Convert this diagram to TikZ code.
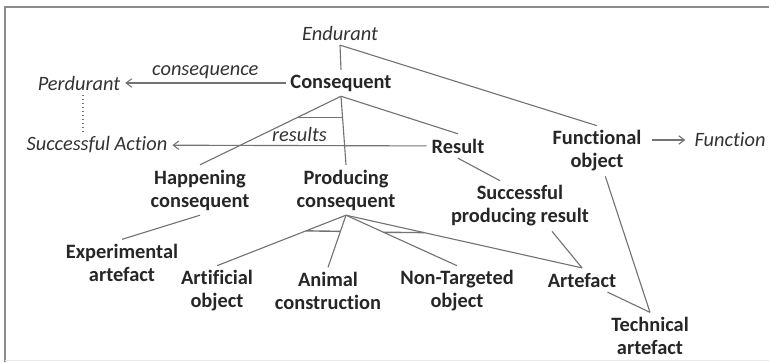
\documentclass[tikz,border=0pt]{standalone}
\usepackage{fontspec}
\setmainfont{Carlito}[Ligatures=NoCommon]
\usetikzlibrary{arrows.meta,calc}
\tikzset{
	cls/.style={font=\fontsize{14.5}{16.3}\selectfont\bfseries, align=center, text=black!85},
	ext/.style={font=\fontsize{14.5}{16.3}\selectfont\itshape, text=black!80},
	link/.style={draw=black!55, line width=0.8pt},
	bar/.style={draw=black!55, line width=1pt},
}
\begin{document}
\begin{tikzpicture}[x=0.025cm,y=-0.025cm,>={Straight Barb[length=4pt,width=6pt]}]
	\useasboundingbox (0,0) rectangle (769,362);
	\draw[black!45, line width=1.2pt] (5,362) -- (5,7) -- (769,7);
	\draw[black!8] (5,360) -- (769,360);

	\node[ext] (Endur) at (340,33) {Endurant};
	\node[cls] (Cons) at (341,83) {Consequent};
	\node[ext] (Perd) at (79,83) {Perdurant};
	\node[ext] (SuccAct) at (97,145) {Successful Action};
	\node[cls] (Res) at (458,146) {Result};
	\node[cls] (Func) at (597,151) {Functional\\object};
	\node[ext] (Function) at (730,140) {Function};
	\node[cls] (Happ) at (200,190) {Happening\\consequent};
	\node[cls] (Prod) at (346,190) {Producing\\consequent};
	\node[cls] (SPR) at (520,206) {Successful\\producing result};
	\node[cls] (Exp) at (122,263) {Experimental\\artefact};
	\node[cls] (Art) at (217,291) {Artificial\\object};
	\node[cls] (Anim) at (328,291) {Animal\\construction};
	\node[cls] (NonT) at (457,291) {Non-Targeted\\object};
	\node[cls] (Artef) at (582,280) {Artefact};
	\node[cls] (Tech) at (650,336) {Technical\\artefact};

	\path[link]
		(Cons.north) edge (Endur.south)
		(Endur.south) edge (Func.north)
		(Cons.south) edge (Happ.north)
		(Cons.south) edge (Prod.north)
		(Cons.south) edge (Res.north)
		(Res.south) edge ($(SPR.north)+(-20,0)$)
		(Happ.south) edge (Exp.north)
		(Prod.south) edge (Art.north)
		(Prod.south) edge (Anim.north)
		(Prod.south) edge (NonT.north)
		(Prod.south) edge (Artef.north)
		($(SPR.south)+(32,0)$) edge (Artef.north)
		(Artef) edge (Tech.north)
		(Func) edge (Tech.north);
	\draw[bar] ($(Cons.south)!0.31!(Happ.north)$) -- ($(Cons.south)!0.31!(Prod.north)$);
	\draw[bar] ($(Prod.south)!0.31!(Art.north)$) -- ($(Prod.south)!0.31!(Anim.north)$);
	\draw[bar] ($(Prod.south)!0.34!(NonT.north)$) -- ($(Prod.south)!0.33!(Artef.north)$);

	\draw[link,->] (Cons) -- node[ext,above=-1pt] (consequence) {consequence} (Perd);
	\draw[link,->] (Res) -- node[ext,above=-1pt] (results) {results} (SuccAct);
	\draw[link,->,shorten <=4pt,shorten >=3pt] (Func.east |- Function.west) -- (Function.west);
	\draw[link,dotted] ($(Perd.south)+(4,0)$) -- ($(Perd.south |- SuccAct.north)+(4,0)$);
\end{tikzpicture}
\end{document}
